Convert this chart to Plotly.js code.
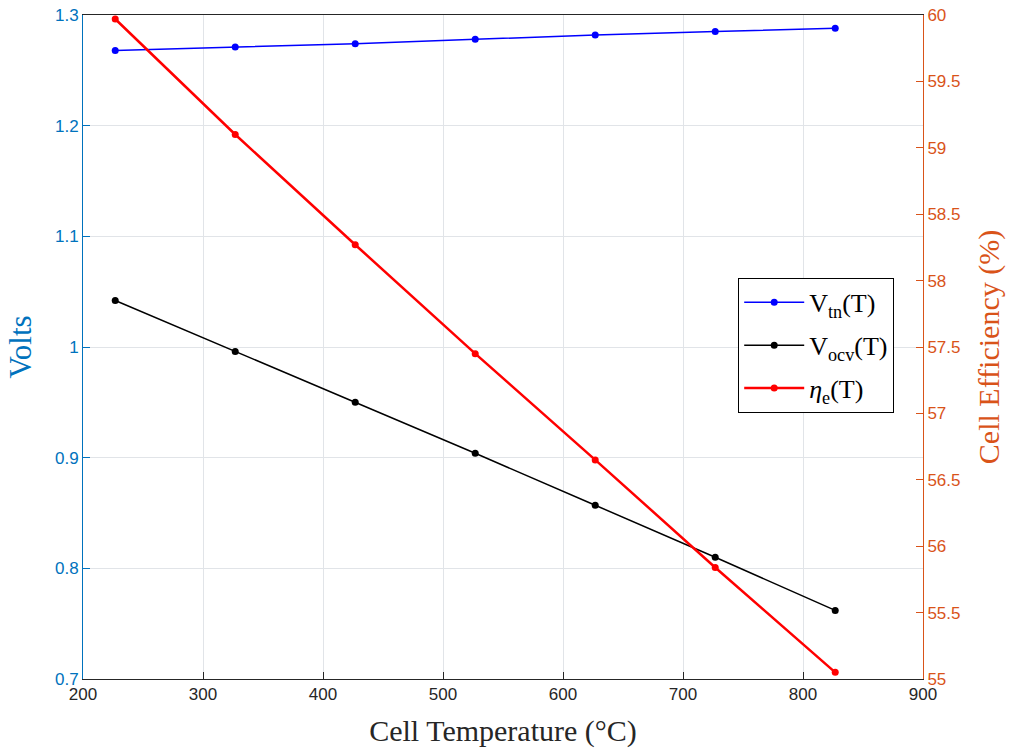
<!DOCTYPE html>
<html>
<head>
<meta charset="utf-8">
<script src="https://cdn.plot.ly/plotly-3.0.1.min.js"></script>
<style>html,body{margin:0;padding:0;background:#fff;}#chart{width:1013px;height:752px;}</style>
</head>
<body>
<div id="chart"></div>
<script>
const temperature = [226.85, 326.85, 426.85, 526.85, 626.85, 726.85, 826.85];
const vTn = [1.268, 1.271, 1.274, 1.278, 1.282, 1.285, 1.288];
const vOcv = [1.042, 0.996, 0.950, 0.904, 0.857, 0.810, 0.762];
const etaE = [59.97, 59.10, 58.27, 57.45, 56.65, 55.84, 55.05];
const xTicks = [200, 300, 400, 500, 600, 700, 800, 900];
const yTicks = [0.7, 0.8, 0.9, 1, 1.1, 1.2, 1.3];
const y2Ticks = [55, 55.5, 56, 56.5, 57, 57.5, 58, 58.5, 59, 59.5, 60];

const leftColor = '#0072BD';
const rightColor = '#D95319';
const serif = 'Liberation Serif, Times New Roman, serif';
const sans = 'Liberation Sans, Arial, sans-serif';

const traces = [
  {x: temperature, y: vTn, name: 'V<sub>tn</sub>(T)', mode: 'lines+markers', legendgroup: 'a',
   line: {color: '#0000ff', width: 1.5}, marker: {color: '#0000ff', size: 7}, yaxis: 'y'},
  {x: temperature, y: vOcv, name: 'V<sub>ocv</sub>(T)', mode: 'lines+markers', legendgroup: 'b',
   line: {color: '#000000', width: 1.5}, marker: {color: '#000000', size: 7}, yaxis: 'y'},
  {x: temperature, y: etaE, name: '<i>η</i><sub>e</sub>(T)', mode: 'lines+markers', legendgroup: 'c',
   line: {color: '#ff0000', width: 2.5}, marker: {color: '#ff0000', size: 7}, yaxis: 'y2'}
];

const layout = {
  width: 1013, height: 752,
  margin: {l: 83, r: 90, t: 15, b: 73},
  paper_bgcolor: '#fff', plot_bgcolor: '#fff',
  showlegend: true,
  legend: {x: 0.78, y: 0.604, xanchor: 'left', yanchor: 'top',
    bgcolor: '#fff', bordercolor: '#000', borderwidth: 1,
    font: {family: serif, size: 26, color: '#000'},
    traceorder: 'grouped', tracegroupgap: 6,
    itemwidth: 60},
  xaxis: {range: [200, 900], tickvals: xTicks, ticktext: xTicks.map(String),
    ticks: 'inside', ticklen: 7, tickcolor: '#262626', showline: true, linecolor: '#262626',
    mirror: true, showgrid: true, gridcolor: '#e1e4e8', zeroline: false,
    tickfont: {family: sans, size: 17, color: '#262626'},
    title: {text: 'Cell Temperature (°C)', standoff: 16,
      font: {family: serif, size: 30, color: '#262626'}}},
  yaxis: {range: [0.7, 1.3], tickvals: yTicks, ticktext: yTicks.map(String),
    ticks: 'inside', ticklen: 7, tickcolor: leftColor, showline: true, linecolor: leftColor,
    showgrid: true, gridcolor: '#e1e4e8', zeroline: false,
    tickfont: {family: sans, size: 17, color: leftColor},
    title: {text: 'Volts', standoff: 14,
      font: {family: serif, size: 31, color: leftColor}}},
  yaxis2: {range: [55, 60], tickvals: y2Ticks, ticktext: y2Ticks.map(String),
    overlaying: 'y', side: 'right',
    ticks: 'inside', ticklen: 7, tickcolor: rightColor, showline: true, linecolor: rightColor,
    showgrid: false, zeroline: false,
    tickfont: {family: sans, size: 17, color: rightColor},
    title: {text: 'Cell Efficiency (%)', standoff: 18,
      font: {family: serif, size: 30, color: rightColor}}}
};

Plotly.newPlot('chart', traces, layout, {displayModeBar: false, staticPlot: true});
</script>
</body>
</html>
